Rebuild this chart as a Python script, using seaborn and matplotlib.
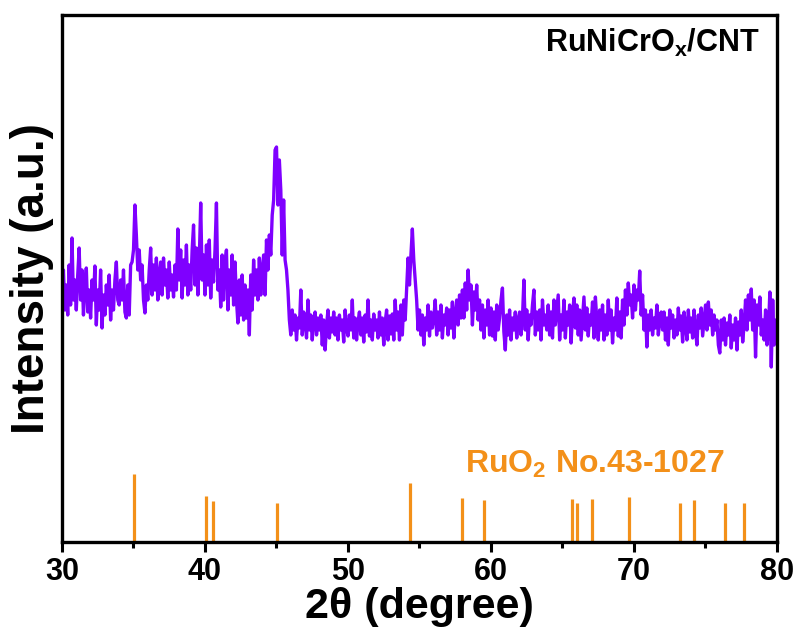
import numpy as np
import pandas as pd
import matplotlib
matplotlib.use("Agg")
import matplotlib.pyplot as plt
import seaborn as sns

# XRD scan of RuNiCrOx/CNT, 30-80 deg in 0.1 deg steps (one row per degree)
two_theta = np.round(np.arange(300, 801) / 10.0, 1)
intensity = [
    484, 544, 464, 514, 454, 554, 474, 608, 484, 524,   # 30
    464, 534, 588, 484, 544, 454, 514, 548, 460, 504,   # 31
    448, 524, 484, 552, 434, 504, 464, 544, 428, 494,   # 32
    454, 514, 474, 534, 444, 504, 464, 524, 560, 484,   # 33
    474, 524, 484, 544, 460, 448, 514, 454, 554, 560,   # 34
    584, 674, 614, 544, 584, 524, 554, 484, 458, 514,   # 35
    484, 544, 588, 494, 554, 504, 568, 484, 534, 560,   # 36
    494, 568, 514, 544, 488, 560, 504, 534, 490, 554,   # 37
    504, 626, 524, 584, 488, 564, 514, 594, 494, 554,   # 38
    504, 584, 634, 514, 588, 494, 564, 678, 524, 574,   # 39
    494, 594, 514, 604, 488, 564, 520, 584, 678, 504,   # 40
    544, 470, 574, 484, 560, 584, 464, 544, 494, 574,   # 41
    474, 560, 484, 438, 524, 454, 534, 444, 514, 448,   # 42
    504, 414, 534, 464, 564, 494, 544, 484, 568, 494,   # 43
    544, 574, 494, 604, 544, 614, 574, 654, 684, 784,   # 44
    790, 674, 764, 704, 574, 684, 564, 544, 504, 444,   # 45
    414, 464, 424, 454, 404, 448, 428, 504, 414, 460,   # 46
    440, 408, 484, 424, 454, 404, 444, 460, 414, 448,   # 47
    424, 454, 394, 444, 384, 434, 464, 408, 448, 420,   # 48
    460, 414, 448, 404, 454, 424, 444, 400, 464, 428,   # 49
    412, 454, 424, 484, 408, 448, 404, 440, 460, 414,   # 50
    448, 400, 454, 420, 484, 412, 444, 404, 456, 424,   # 51
    444, 408, 460, 414, 448, 394, 440, 464, 404, 452,   # 52
    416, 456, 404, 484, 424, 460, 404, 474, 414, 484,   # 53
    444, 504, 568, 514, 574, 626, 564, 524, 484, 424,   # 54
    464, 414, 454, 394, 448, 424, 474, 412, 460, 428,   # 55
    448, 484, 414, 460, 424, 474, 408, 454, 434, 468,   # 56
    414, 464, 428, 480, 408, 454, 484, 434, 494, 448,   # 57
    504, 448, 518, 464, 544, 484, 514, 434, 500, 464,   # 58
    514, 444, 484, 424, 474, 408, 464, 434, 484, 414,   # 59
    468, 412, 460, 404, 474, 424, 448, 484, 508, 420,   # 60
    384, 454, 414, 464, 404, 448, 424, 460, 408, 444,   # 61
    460, 414, 448, 524, 424, 464, 404, 454, 434, 474,   # 62
    504, 414, 460, 424, 464, 404, 484, 434, 454, 424,   # 63
    474, 414, 460, 408, 484, 434, 464, 494, 404, 454,   # 64
    424, 484, 408, 460, 434, 474, 398, 454, 488, 428,   # 65
    474, 414, 464, 404, 448, 490, 424, 468, 412, 454,   # 66
    434, 480, 408, 490, 444, 404, 464, 424, 474, 404,   # 67
    454, 414, 484, 424, 464, 398, 448, 424, 488, 412,   # 68
    460, 408, 484, 434, 504, 454, 518, 474, 494, 448,   # 69
    514, 464, 504, 484, 542, 454, 494, 424, 464, 390,   # 70
    454, 424, 464, 414, 448, 428, 474, 414, 444, 460,   # 71
    424, 460, 404, 448, 394, 464, 428, 454, 408, 444,   # 72
    414, 468, 424, 452, 400, 460, 434, 404, 464, 420,   # 73
    448, 408, 464, 424, 394, 454, 428, 468, 412, 444,   # 74
    474, 424, 480, 434, 464, 414, 454, 424, 444, 394,   # 75
    378, 444, 404, 448, 394, 438, 414, 454, 388, 434,   # 76
    404, 448, 384, 440, 414, 464, 400, 434, 484, 424,   # 77
    494, 444, 506, 424, 484, 370, 474, 434, 490, 414,   # 78
    444, 404, 464, 394, 424, 500, 350, 484, 394, 444,   # 79
    424,                                                # 80
]

# RuO2 reference pattern (PDF No. 43-1027): positions and stick heights
ref_pos = [35.05, 40.05, 40.55, 45.05, 54.33, 57.98, 59.49, 65.63, 66.02,
           67.07, 69.62, 73.21, 74.19, 76.35, 77.72]
ref_height = [136, 92, 82, 78, 118, 88, 84, 86, 78, 86, 90, 78, 84, 78, 78]

xticks = [30, 40, 50, 60, 70, 80]

purple = "#7F00FF"
orange = "#F39019"

sns.set_style("ticks", {"axes.edgecolor": "black", "xtick.color": "black",
                        "text.color": "black", "axes.labelcolor": "black"})
plt.rcParams["font.family"] = ["Liberation Sans", "DejaVu Sans"]
plt.rcParams["font.weight"] = "bold"
plt.rcParams["mathtext.fontset"] = "custom"
plt.rcParams["mathtext.rm"] = "Liberation Sans:bold"
plt.rcParams["mathtext.it"] = "Liberation Sans:bold"
plt.rcParams["mathtext.bf"] = "Liberation Sans:bold"

fig = plt.figure(figsize=(7.97, 6.40), dpi=100)
ax = fig.add_axes([62 / 797, 1 - 542 / 640, 715 / 797, 527 / 640])

scan = pd.DataFrame({"two_theta": two_theta, "intensity": intensity})
sns.lineplot(data=scan, x="two_theta", y="intensity", ax=ax, color=purple,
             linewidth=2.4, estimator=None, sort=False)

ax.vlines(ref_pos, 0, ref_height, colors=orange, linewidth=2.3)

ax.set_xlim(30, 80)
ax.set_ylim(0, 1054)
ax.set_xticks(xticks)
ax.set_xticks([35, 45, 55, 65, 75], minor=True)
ax.set_yticks([])
ax.tick_params(axis="x", which="major", direction="out", length=7, width=2.2,
               labelsize=22, pad=4, colors="black")
ax.tick_params(axis="x", which="minor", direction="out", length=4, width=2.2,
               colors="black")
for lab in ax.get_xticklabels():
    lab.set_fontweight("bold")
for sp in ax.spines.values():
    sp.set_linewidth(2.4)
    sp.set_color("black")
    sp.set_visible(True)

ax.set_xlabel("2θ (degree)", fontsize=31, fontweight="bold", labelpad=0,
              color="black")
ax.set_ylabel("Intensity (a.u.)", fontsize=33, fontweight="bold", labelpad=6,
              color="black")

ax.text(0.976, 0.93, r"RuNiCrO$_\mathrm{x}$/CNT", transform=ax.transAxes,
        ha="right", va="baseline", fontsize=22, fontweight="bold", color="black")
ax.text(0.564, 0.131, r"RuO$_\mathrm{2}$ No.43-1027", transform=ax.transAxes,
        ha="left", va="baseline", fontsize=23, fontweight="bold", color=orange)

fig.savefig("out.png", dpi=100)
